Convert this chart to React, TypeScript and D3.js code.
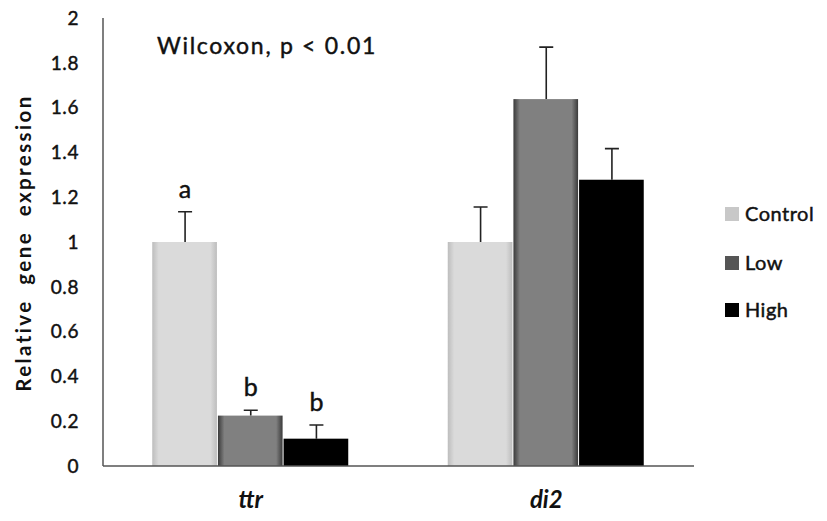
import { useEffect, useRef } from 'react';
import * as d3 from 'd3';

const genes = ['ttr', 'di2'];
const groups = ['Control', 'Low', 'High'];
const ttrMeans = [1.0, 0.225, 0.122];
const ttrErrors = [0.135, 0.024, 0.061];
const di2Means = [1.0, 1.638, 1.278];
const di2Errors = [0.156, 0.232, 0.139];
const sigLetters = ['a', 'b', 'b'];
const yTicks = [0, 0.2, 0.4, 0.6, 0.8, 1, 1.2, 1.4, 1.6, 1.8, 2];

const W = 827;
const H = 521;
const FONT = 'Lato, "Open Sans", sans-serif';

export default function App() {
  const svgRef = useRef<SVGSVGElement>(null);

  useEffect(() => {
    if (!svgRef.current) return;
    const svg = d3.select(svgRef.current);
    svg.selectAll('*').remove();

    const margin = { top: 18, right: 133, bottom: 55, left: 103 };
    const innerW = W - margin.left - margin.right;
    const innerH = H - margin.top - margin.bottom;

    const rows = genes.map((g, i) => ({
      gene: g,
      values: groups.map((grp, j) => ({
        group: grp,
        mean: i === 0 ? ttrMeans[j] : di2Means[j],
        err: i === 0 ? ttrErrors[j] : di2Errors[j],
        letter: i === 0 ? sigLetters[j] : null,
      })),
    }));

    const x0 = d3.scaleBand<string>().domain(genes).range([0, innerW])
      .paddingInner(1 / 3).paddingOuter(1 / 6);
    const x1 = d3.scaleBand<string>().domain(groups).range([0, x0.bandwidth()]).padding(0);
    const y = d3.scaleLinear().domain([0, 2]).range([innerH, 0]);

    // ── gradients to mimic the shaded Excel bars ──
    const defs = svg.append('defs');
    const fills: Record<string, string> = {};
    const gradStops: Record<string, [string, string]> = {
      Control: ['#bdbdbd', '#dadada'],
      Low: ['#3a3a3a', '#808080'],
    };
    Object.entries(gradStops).forEach(([k, [edge, mid]]) => {
      const gr = defs.append('linearGradient').attr('id', `bar-${k}`)
        .attr('x1', '0%').attr('x2', '100%').attr('y1', '0%').attr('y2', '0%');
      gr.append('stop').attr('offset', '0%').attr('stop-color', edge);
      gr.append('stop').attr('offset', '10%').attr('stop-color', mid);
      gr.append('stop').attr('offset', '90%').attr('stop-color', mid);
      gr.append('stop').attr('offset', '100%').attr('stop-color', edge);
      fills[k] = `url(#bar-${k})`;
    });
    fills.High = '#000000';

    // thicken regular text a little, like the blurry Calibri in the source
    const heavy = (sel: any) => sel.attr('fill', '#111').attr('stroke', '#111').attr('stroke-width', 0.45);

    const g = svg.append('g').attr('transform', `translate(${margin.left},${margin.top})`);

    // y tick labels (no tick marks)
    g.selectAll('text.ytick')
      .data(yTicks)
      .join('text')
      .attr('class', 'ytick')
      .attr('x', -24)
      .attr('y', d => y(d))
      .attr('dy', '0.36em')
      .attr('text-anchor', 'end')
      .attr('font-family', FONT)
      .attr('font-size', 19)
      .attr('letter-spacing', 0.6)
      .call(heavy)
      .text(d => String(d));

    // bars
    const grp = g.selectAll('g.gene')
      .data(rows)
      .join('g')
      .attr('class', 'gene')
      .attr('transform', d => `translate(${x0(d.gene)},0)`);

    grp.selectAll('rect')
      .data(d => d.values)
      .join('rect')
      .attr('x', d => x1(d.group)!)
      .attr('y', d => y(d.mean))
      .attr('width', x1.bandwidth() - 1)
      .attr('height', d => innerH - y(d.mean))
      .attr('fill', d => fills[d.group]);

    // error bars (upper only)
    grp.selectAll('path.err')
      .data(d => d.values)
      .join('path')
      .attr('class', 'err')
      .attr('d', d => {
        const cx = x1(d.group)! + x1.bandwidth() / 2;
        const yt = y(d.mean + d.err);
        return `M${cx},${y(d.mean)}V${yt}M${cx - 7},${yt}H${cx + 7}`;
      })
      .attr('stroke', '#222')
      .attr('stroke-width', 1.6)
      .attr('fill', 'none');

    // significance letters
    grp.selectAll('text.sig')
      .data(d => d.values.filter(v => v.letter))
      .join('text')
      .attr('class', 'sig')
      .attr('x', d => x1(d.group)! + x1.bandwidth() / 2)
      .attr('y', d => y(d.mean + d.err) - 14)
      .attr('text-anchor', 'middle')
      .attr('font-family', FONT)
      .attr('font-size', 25)
      .call(heavy)
      .text(d => d.letter as string);

    // axes lines
    g.append('line').attr('x1', 0).attr('x2', 0).attr('y1', 0).attr('y2', innerH)
      .attr('stroke', '#555').attr('stroke-width', 1.5);
    g.append('line').attr('x1', 0).attr('x2', innerW).attr('y1', innerH).attr('y2', innerH)
      .attr('stroke', '#555').attr('stroke-width', 1.5);

    // gene labels
    g.selectAll('text.gene')
      .data(genes)
      .join('text')
      .attr('class', 'gene')
      .attr('x', d => x0(d)! + x0.bandwidth() / 2)
      .attr('y', innerH + 42)
      .attr('text-anchor', 'middle')
      .attr('font-family', FONT)
      .attr('font-size', 24)
      .attr('font-weight', 'bold')
      .attr('font-style', 'italic')
      .attr('fill', '#111')
      .text(d => d);

    // y axis title
    svg.append('text')
      .attr('transform', 'translate(31,243) rotate(-90)')
      .attr('text-anchor', 'middle')
      .attr('font-family', FONT)
      .attr('font-size', 20.5)
      .attr('font-weight', 'bold')
      .attr('letter-spacing', 2.4)
      .attr('fill', '#111')
      .attr('xml:space', 'preserve')
      .style('white-space', 'pre')
      .text('Relative  gene  expression');

    // statistics note
    svg.append('text')
      .attr('x', 157)
      .attr('y', 54)
      .attr('font-family', FONT)
      .attr('font-size', 23)
      .attr('letter-spacing', 1.7)
      .call(heavy)
      .text('Wilcoxon, p < 0.01');

    // legend
    const leg = svg.append('g').attr('transform', 'translate(725,0)');
    const legY = [214, 263, 310];
    groups.forEach((grpName, i) => {
      leg.append('rect')
        .attr('x', 0).attr('y', legY[i] - 7)
        .attr('width', 14).attr('height', 14)
        .attr('fill', grpName === 'High' ? '#000' : grpName === 'Low' ? '#555' : '#c8c8c8');
      leg.append('text')
        .attr('x', 20).attr('y', legY[i])
        .attr('dy', '0.36em')
        .attr('font-family', FONT)
        .attr('font-size', 20)
        .attr('letter-spacing', 0.5)
        .call(heavy)
        .text(grpName);
    });
  }, []);

  return (
    <svg
      ref={svgRef}
      width={W}
      height={H}
      style={{ position: 'absolute', left: 0, top: 0, background: '#fff' }}
    />
  );
}
